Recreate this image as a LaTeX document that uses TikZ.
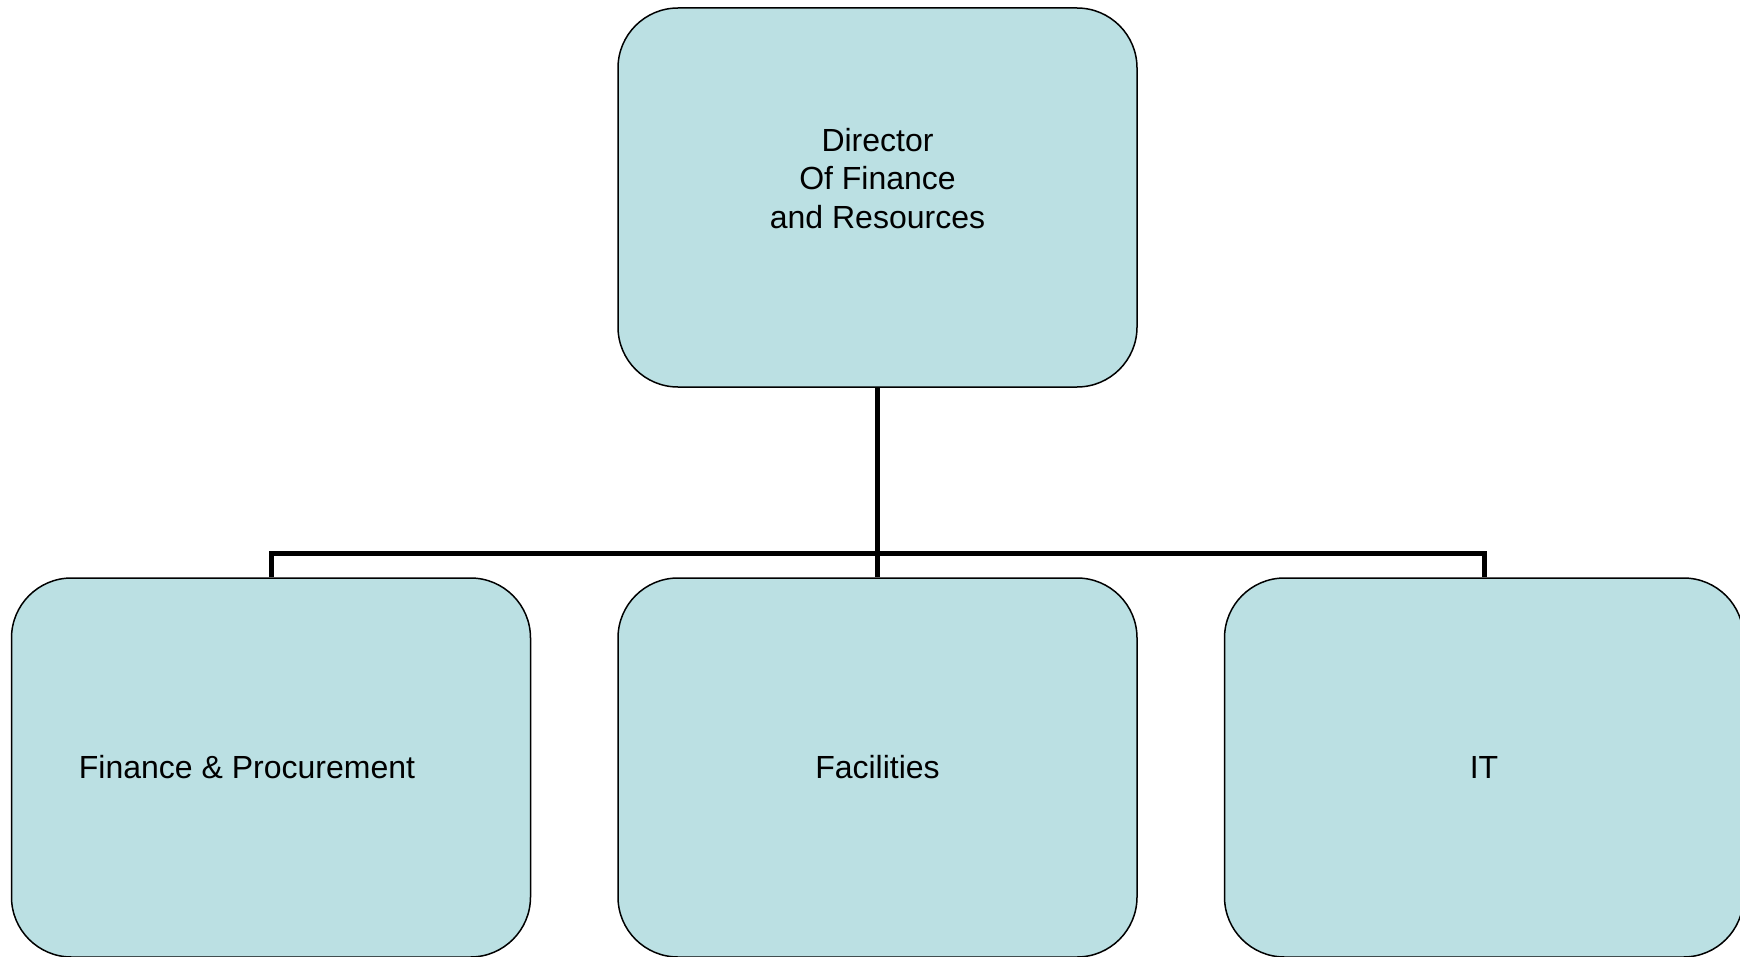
\documentclass[tikz,border=0pt]{standalone}
\usepackage{fontspec}
\setmainfont{Liberation Sans}
\usetikzlibrary{positioning}
\definecolor{boxfill}{RGB}{187,224,227}

\begin{document}
\begin{tikzpicture}[x=0.5pt, y=-0.5pt, node distance=43pt, main/.style = {draw, fill=boxfill, rounded corners=30pt, line width=0.75pt, minimum width=259.5pt, minimum height=189.5pt, inner sep=0pt, align=center, font=\fontsize{16}{19.2}\selectfont}]
    \useasboundingbox (0,0) rectangle (1740,957);

    \node[main] at (877.5, 197.5) (dir){Director\\ Of Finance\\ and Resources\\ \mbox{}};
    \node[main] at (877.5, 767.5) (fac){Facilities};
    \node[main](fp)[left=of fac]{Finance \& Procurement\hspace*{24pt}};
    \node[main](it)[right=of fac]{IT};

    \coordinate (bar) at (877.5, 553);

    \path[draw, line width=2.5pt]
    (dir) edge (fac)
    (fp.north) |- (bar) -| (it.north)
    ;
  \end{tikzpicture}
\end{document}
